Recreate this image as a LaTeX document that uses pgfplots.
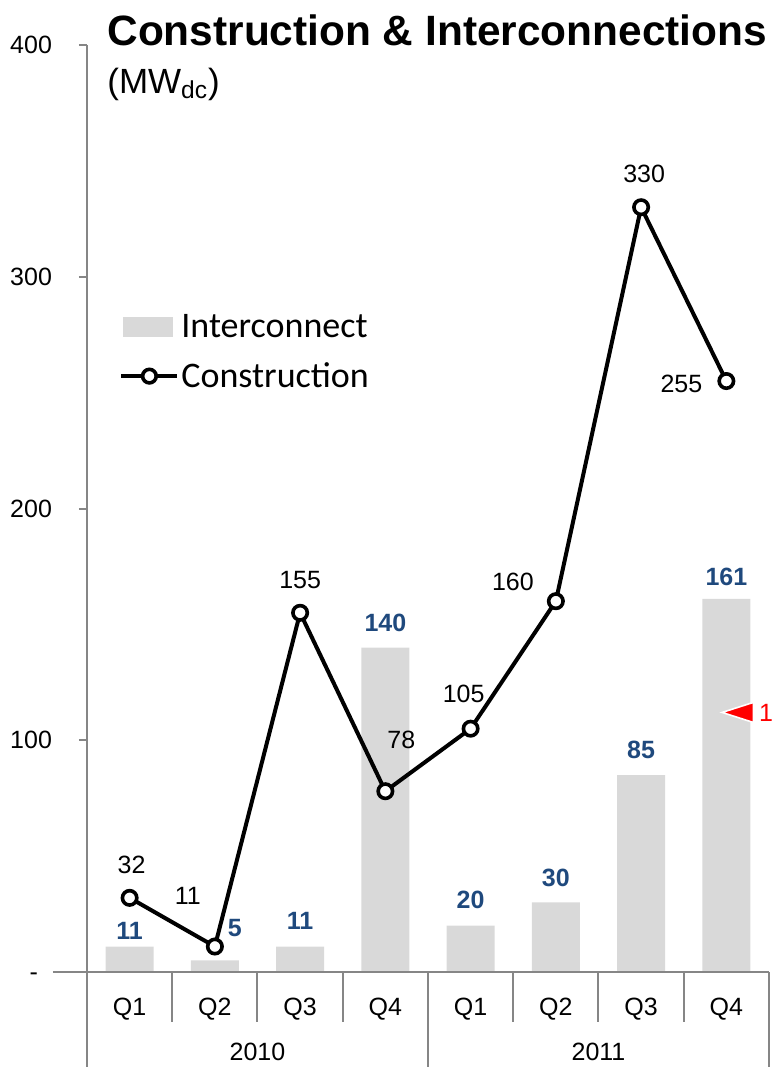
\documentclass[border=0pt]{standalone}
\usepackage{fontspec}
\setmainfont{Liberation Sans}
\newfontfamily\calibri{Carlito}
\usepackage{pgfplots}
\pgfplotsset{compat=1.18}
\definecolor{bargray}{RGB}{217,217,217}
\definecolor{axgray}{RGB}{134,134,134}
\definecolor{lblue}{RGB}{31,73,125}
\newcommand{\lf}{\fontsize{12.5}{15}\selectfont}
\begin{document}
\begin{tikzpicture}
\begin{axis}[
  at={(0,0)}, anchor=south west,
  scale only axis, width=341pt, height=463.5pt,
  xmin=-0.5, xmax=7.5, ymin=0, ymax=400,
  clip=false,
  axis lines*=left,
  x axis line style={draw=none},
  y axis line style={axgray, line width=1pt},
  xtick={0,1,2,3,4,5,6,7},
  xticklabels={Q1,Q2,Q3,Q4,Q1,Q2,Q3,Q4},
  xtick style={draw=none},
  xticklabel style={font=\lf, anchor=base, yshift=-17.5pt},
  ytick={0,100,200,300,400},
  yticklabels={-\phantom{0},100,200,300,400},
  ytick style={axgray, line width=1pt},
  yticklabel style={font=\lf, xshift=-10pt},
  tick align=outside, major tick length=4pt,
  legend style={at={(axis cs:-0.5,267.5)}, anchor=west, xshift=16pt,
    draw=none, fill=none, inner sep=0pt, row sep=9pt,
    font=\calibri\fontsize{18}{21}\selectfont,
    nodes={inner sep=1pt}},
  legend cell align=left,
]
\addplot[ybar, bar width=24pt, bar shift=0pt, fill=bargray, draw=none,
  legend image code/.code={\fill[bargray] (1pt,-5pt) rectangle (26pt,5pt);}]
  coordinates {(0,11) (1,5) (2,11) (3,140) (4,20) (5,30) (6,85) (7,161)};
\addlegendentry{Interconnect}
\addplot[black, line width=2pt, mark=*, mark size=3.6pt,
  mark options={fill=white, line width=1.8pt},
  legend image code/.code={\draw[black,line width=2pt] (0pt,0pt) -- (28pt,0pt);
     \draw[black,line width=1.8pt,fill=white] (14pt,0pt) circle (3.4pt);}]
  coordinates {(0,32) (1,11) (2,155) (3,78) (4,105) (5,160) (6,330) (7,255)};
\addlegendentry{Construction}
\addplot[forget plot, only marks, mark=triangle*, mark size=5.8pt,
  mark options={rotate=90, yscale=1.8, fill=red, draw=white, line width=0.8pt}]
  coordinates {(7.195,112)};
% axis line and category separators
\draw[axgray, line width=1pt] (axis cs:-0.9,0) -- (axis cs:7.5,0);
\draw[axgray, line width=1pt] (axis cs:-0.5,0) -- ++(0pt,-50pt);
\draw[axgray, line width=1pt] (axis cs:3.5,0) -- ++(0pt,-50pt);
\draw[axgray, line width=1pt] (axis cs:7.5,0) -- ++(0pt,-50pt);
\draw[axgray, line width=1pt] (axis cs:0.5,0) -- ++(0pt,-25pt);
\draw[axgray, line width=1pt] (axis cs:1.5,0) -- ++(0pt,-25pt);
\draw[axgray, line width=1pt] (axis cs:2.5,0) -- ++(0pt,-25pt);
\draw[axgray, line width=1pt] (axis cs:4.5,0) -- ++(0pt,-25pt);
\draw[axgray, line width=1pt] (axis cs:5.5,0) -- ++(0pt,-25pt);
\draw[axgray, line width=1pt] (axis cs:6.5,0) -- ++(0pt,-25pt);
\node[font=\lf] at (axis cs:1.5,0) [yshift=-40pt] {2010};
\node[font=\lf] at (axis cs:5.5,0) [yshift=-40pt] {2011};
% construction labels
\node[font=\lf] at (axis cs:0,32) [xshift=1pt, yshift=16.5pt] {32};
\node[font=\lf] at (axis cs:1,11) [xshift=-13.5pt, yshift=25.5pt] {11};
\node[font=\lf] at (axis cs:2,155) [yshift=16.5pt] {155};
\node[font=\lf] at (axis cs:3,78) [xshift=8pt, yshift=25.5pt] {78};
\node[font=\lf] at (axis cs:4,105) [xshift=-3.5pt, yshift=17.5pt] {105};
\node[font=\lf] at (axis cs:5,160) [xshift=-21.5pt, yshift=9.5pt] {160};
\node[font=\lf] at (axis cs:6,330) [xshift=1.5pt, yshift=16.5pt] {330};
\node[font=\lf] at (axis cs:7,255) [xshift=-22.5pt, yshift=-1.5pt] {255};
% interconnect labels
\node[font=\lf\bfseries, text=lblue] at (axis cs:0,11) [yshift=8pt] {11};
\node[font=\lf\bfseries, text=lblue] at (axis cs:1,5) [xshift=10pt, yshift=16pt] {5};
\node[font=\lf\bfseries, text=lblue] at (axis cs:2,11) [yshift=13pt] {11};
\node[font=\lf\bfseries, text=lblue] at (axis cs:3,140) [yshift=12.5pt] {140};
\node[font=\lf\bfseries, text=lblue] at (axis cs:4,20) [yshift=13pt] {20};
\node[font=\lf\bfseries, text=lblue] at (axis cs:5,30) [yshift=12.5pt] {30};
\node[font=\lf\bfseries, text=lblue] at (axis cs:6,85) [yshift=12.5pt] {85};
\node[font=\lf\bfseries, text=lblue] at (axis cs:7,161) [yshift=11pt] {161};
\node[font=\lf, text=red, anchor=west, inner sep=0pt] at (axis cs:7.38,112) {1};
% title
\node[anchor=base west, inner sep=0pt, font=\bfseries\fontsize{21.2}{25}\selectfont]
  at (rel axis cs:0,1) [xshift=10pt] {Construction \& Interconnections};
\node[anchor=base west, inner sep=0pt, font=\fontsize{17.5}{21}\selectfont]
  at (rel axis cs:0,1) [xshift=10pt, yshift=-24pt] {(MW\textsubscript{dc})};
\end{axis}
\pgfresetboundingbox
\useasboundingbox (-43.5pt,-47.5pt) rectangle (342.5pt,486pt);
\end{tikzpicture}
\end{document}
